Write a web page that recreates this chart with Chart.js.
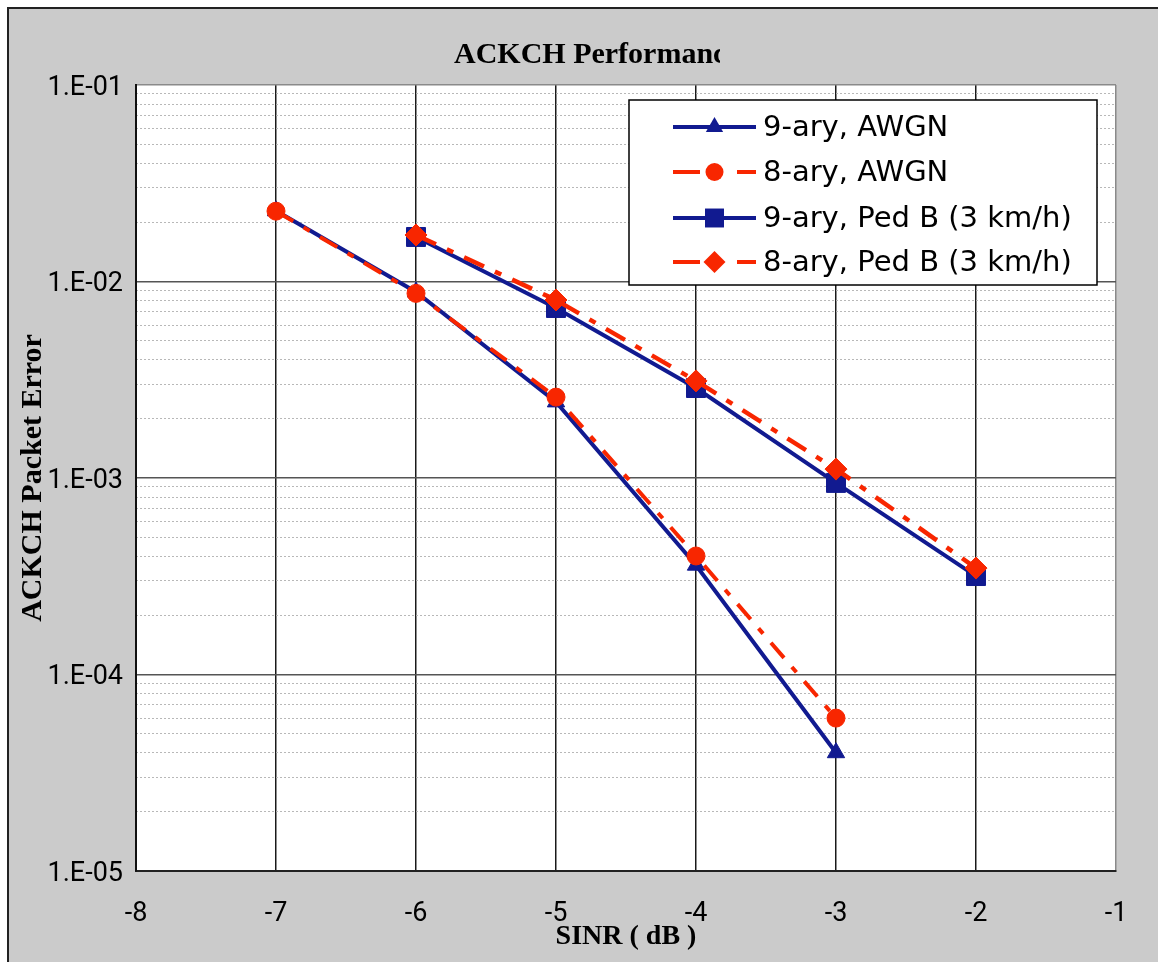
<!DOCTYPE html>
<html><head><meta charset="utf-8">
<script src="https://cdn.jsdelivr.net/npm/chart.js@4"></script>
<style>
html,body{margin:0;padding:0;background:#fff;overflow:hidden;width:1158px;height:962px}
#frame{position:absolute;left:7px;top:7px;width:1200px;height:1000px;background:#cbcbcb;border-left:2px solid #222;border-top:2px solid #222;box-sizing:border-box}
#wrap{position:absolute;left:0;top:0;width:1158px;height:962px}
</style></head><body>
<div id="frame"></div>
<div id="wrap"><canvas id="c" width="1158" height="962"></canvas></div>
<script>
// ---- data ----
const titleText = 'ACKCH Performance';
const xTitle = 'SINR ( dB )';
const yTitle = 'ACKCH Packet Error';
const seriesNames = ['9-ary, AWGN', '8-ary, AWGN', '9-ary, Ped B (3 km/h)', '8-ary, Ped B (3 km/h)'];
const sinrAwgn = [-7, -6, -5, -4, -3];
const sinrPedB = [-6, -5, -4, -3, -2];
const ary9Awgn = [0.0229, 0.00885, 0.00244, 0.00036, 0.00004];
const ary8Awgn = [0.0228, 0.0087, 0.00258, 0.000401, 0.00006];
const ary9PedB = [0.01685, 0.00733, 0.00287, 0.000944, 0.000317];
const ary8PedB = [0.01725, 0.00805, 0.00312, 0.00111, 0.000348];
const xTickValues = [-8, -7, -6, -5, -4, -3, -2, -1];
const yTickValues = [1e-5, 1e-4, 1e-3, 1e-2, 1e-1];
const yTickLabels = ['1.E-05', '1.E-04', '1.E-03', '1.E-02', '1.E-01'];
const yMinorValues = [];
[1e-5, 1e-4, 1e-3, 1e-2].forEach(d => { for (let k = 2; k <= 9; k++) yMinorValues.push(k * d); });

const BLUE = '#111a90';
const RED = '#f82600';

function pts(xs, ys) { return xs.map((x, i) => ({x: x, y: ys[i]})); }

const bgPlugin = {
  id: 'bg',
  beforeDraw(chart) {
    const {ctx, chartArea: a} = chart;
    ctx.save();
    ctx.fillStyle = '#fff';
    ctx.fillRect(a.left, a.top, a.right - a.left, a.bottom - a.top);
    ctx.restore();
  }
};

const titlePlugin = {
  id: 'clippedTitle',
  afterDraw(chart) {
    const ctx = chart.ctx;
    ctx.save();
    ctx.beginPath();
    ctx.rect(0, 0, 720, chart.height);
    ctx.clip();
    ctx.font = 'bold 30px "Liberation Serif", "Times New Roman", serif';
    ctx.fillStyle = '#000';
    ctx.textAlign = 'left';
    ctx.textBaseline = 'alphabetic';
    ctx.fillText(titleText, 454, 63);
    ctx.restore();
  }
};

function marker(ctx, style, r, x, y) {
  ctx.beginPath();
  if (style === 'circle') { ctx.arc(x, y, r, 0, Math.PI * 2); }
  else if (style === 'triangle') {
    const s = Math.sqrt(3) / 2 * r;
    ctx.moveTo(x, y - r); ctx.lineTo(x + s, y + r / 2); ctx.lineTo(x - s, y + r / 2); ctx.closePath();
  } else if (style === 'rect') {
    const s = Math.SQRT1_2 * r; ctx.rect(x - s, y - s, 2 * s, 2 * s);
  } else if (style === 'rectRot') {
    ctx.moveTo(x - r, y); ctx.lineTo(x, y - r); ctx.lineTo(x + r, y); ctx.lineTo(x, y + r); ctx.closePath();
  }
  ctx.fill();
}

const legendPlugin = {
  id: 'boxLegend',
  afterDraw(chart) {
    const ctx = chart.ctx;
    const bx = 629, by = 100, bw = 468, bh = 185;
    ctx.save();
    ctx.fillStyle = '#fff';
    ctx.fillRect(bx, by, bw, bh);
    ctx.strokeStyle = '#000';
    ctx.lineWidth = 1.5;
    ctx.strokeRect(bx, by, bw, bh);
    const rows = [127, 172, 218, 262];
    chart.data.datasets.forEach((ds, i) => {
      const y = rows[i];
      ctx.strokeStyle = ds.borderColor;
      ctx.fillStyle = ds.borderColor;
      ctx.lineWidth = 4;
      ctx.setLineDash([]);
      ctx.beginPath();
      if (ds.borderDash && ds.borderDash.length) {
        ctx.moveTo(673, y); ctx.lineTo(700, y);
        ctx.moveTo(737, y); ctx.lineTo(756, y);
      } else {
        ctx.moveTo(673, y); ctx.lineTo(756, y);
      }
      ctx.stroke();
      marker(ctx, ds.pointStyle, ds.pointRadius, 714.5, y);
      ctx.fillStyle = '#000';
      ctx.font = '29px "DejaVu Sans", sans-serif';
      ctx.textAlign = 'left';
      ctx.textBaseline = 'middle';
      ctx.fillText(ds.label, 763, y + 1);
    });
    ctx.restore();
  }
};

new Chart(document.getElementById('c'), {
  type: 'line',
  data: {
    datasets: [
      {label: seriesNames[0], data: pts(sinrAwgn, ary9Awgn), borderColor: BLUE, backgroundColor: BLUE,
       borderWidth: 4, pointStyle: 'triangle', pointRadius: 10, pointBorderWidth: 1, order: 1},
      {label: seriesNames[1], data: pts(sinrAwgn, ary8Awgn), borderColor: RED, backgroundColor: RED,
       borderWidth: 4, borderDash: [20, 12, 7, 12], pointStyle: 'circle', pointRadius: 9, pointBorderWidth: 1, order: 0},
      {label: seriesNames[2], data: pts(sinrPedB, ary9PedB), borderColor: BLUE, backgroundColor: BLUE,
       borderWidth: 4, pointStyle: 'rect', pointRadius: 13.4, pointBorderWidth: 1, order: 1},
      {label: seriesNames[3], data: pts(sinrPedB, ary8PedB), borderColor: RED, backgroundColor: RED,
       borderWidth: 4.5, borderDash: [22, 12, 7, 12], pointStyle: 'rectRot', pointRadius: 11, pointBorderWidth: 1, order: 0}
    ]
  },
  options: {
    responsive: false,
    animation: false,
    devicePixelRatio: 1,
    layout: {padding: {left: 0, top: 85, right: 42, bottom: 0}},
    plugins: {legend: {display: false}, title: {display: false}, tooltip: {enabled: false}},
    elements: {line: {tension: 0}},
    scales: {
      x: {
        type: 'linear', min: -8, max: -1,
        afterBuildTicks: s => { s.ticks = xTickValues.map(v => ({value: v})); },
        afterFit: s => { s.height = 91; },
        ticks: {font: {family: 'Roboto', size: 27}, color: '#000', padding: 27, autoSkip: false, maxRotation: 0,
                callback: v => String(v)},
        grid: {color: c => (c.tick && c.tick.value === -1) ? '#8a8a8a' : '#1a1a1a', lineWidth: 1.5, drawTicks: false},
        border: {color: '#222', width: 2},
        title: {display: true, text: xTitle, color: '#000',
                font: {family: '"Liberation Serif", "Times New Roman", serif', size: 28, weight: 'bold'},
                padding: {top: 0, bottom: 8}}
      },
      yMinor: {
        type: 'logarithmic', min: 1e-5, max: 1e-1, position: 'left',
        afterBuildTicks: s => { s.ticks = yMinorValues.map(v => ({value: v})); },
        afterFit: s => { s.width = 0; },
        ticks: {display: false, autoSkip: false},
        grid: {color: '#b8b8b8', lineWidth: 1, drawTicks: false},
        border: {display: false, dash: [2, 2]}
      },
      y: {
        type: 'logarithmic', min: 1e-5, max: 1e-1, position: 'left',
        afterBuildTicks: s => { s.ticks = yTickValues.map(v => ({value: v})); },
        afterFit: s => { s.width = 136; },
        ticks: {font: {family: 'Roboto', size: 27}, color: '#000', padding: 13, autoSkip: false, labelOffset: 3,
                callback: (v) => { const i = yTickValues.findIndex(t => Math.abs(Math.log10(t) - Math.log10(v)) < 1e-6); return i >= 0 ? yTickLabels[i] : ''; }},
        grid: {color: c => (c.tick && Math.abs(c.tick.value - 1e-1) < 1e-9) ? '#8a8a8a' : '#555', lineWidth: 1.5, drawTicks: false},
        border: {color: '#111', width: 2},
        title: {display: true, text: yTitle, color: '#000',
                font: {family: '"Liberation Serif", "Times New Roman", serif', size: 30, weight: 'bold'},
                padding: {top: 15, bottom: 0}}
      }
    }
  },
  plugins: [bgPlugin, titlePlugin, legendPlugin]
});
</script>
</body></html>
